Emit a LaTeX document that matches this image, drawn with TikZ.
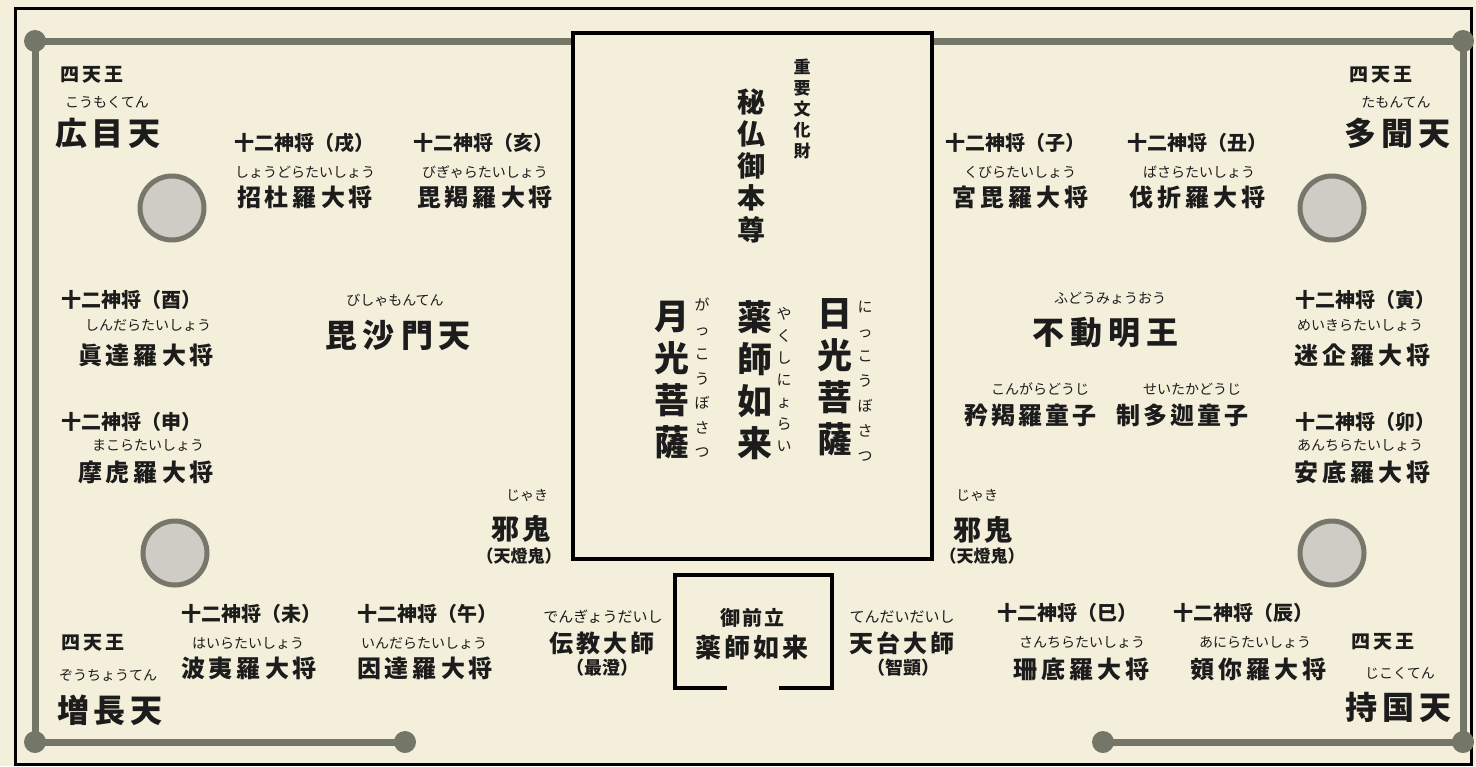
\documentclass[tikz,border=0pt]{standalone}
\usepackage{fontspec}
\setmainfont{Noto Sans CJK JP}
\definecolor{paper}{RGB}{244,239,218}
\definecolor{frameg}{RGB}{116,118,104}
\definecolor{circf}{RGB}{206,204,196}
\definecolor{circb}{RGB}{118,118,106}
\definecolor{ink}{RGB}{28,28,28}
\makeatletter
\newcommand\lsp[2]{\begingroup\def\lsp@f{x}\@tfor\lsp@c:=#2\do{\ifx\lsp@f\@empty\hspace{#1}\fi\let\lsp@f\@empty\lsp@c}\endgroup}
\newcommand\vstk[2]{\vbox{\baselineskip=#2\relax\lineskiplimit=-\maxdimen\lineskip=0pt\relax\@tfor\lsp@c:=#1\do{\hbox to 1em{\hss\lsp@c\hss}}}}
\makeatother
\tikzset{
  every node/.style={inner sep=0pt, text=ink},
  tz/.style={font=\fontsize{9.5}{11}\selectfont\bfseries},
  rb/.style={font=\fontsize{7}{8}\selectfont},
  rbb/.style={font=\fontsize{7.5}{9}\selectfont},
  tg/.style={font=\fontsize{10}{12}\selectfont\bfseries},
  nm/.style={font=\fontsize{12}{14}\selectfont\bfseries},
  big/.style={font=\fontsize{16}{18}\selectfont\bfseries},
  jk/.style={font=\fontsize{14}{16}\selectfont\bfseries},
  pn/.style={font=\fontsize{8.5}{10}\selectfont\bfseries},
  sm/.style={font=\fontsize{9}{11}\selectfont\bfseries},
  gline/.style={draw=frameg, line width=3.5pt},
  gdot/.style={fill=frameg},
  pillar/.style={fill=circf, draw=circb, line width=2.5pt},
  hall/.style={draw=black, line width=2pt},
}
\begin{document}
\begin{tikzpicture}[x=0.5pt,y=-0.5pt]
\useasboundingbox (0,0) rectangle (1476,766);
\fill[paper] (0,0) rectangle (1476,766);
% outer black frame
\draw[black, line width=1.5pt] (15,8) rectangle (1471,764);
% grey frame
\coordinate (tl) at (35,41);
\coordinate (tr) at (1463,41);
\coordinate (bl) at (35,742);
\coordinate (br) at (1463,742);
\coordinate (be1) at (405,742);
\coordinate (be2) at (1103,742);
\coordinate (tm1) at (575,41);
\coordinate (tm2) at (930,41);
\draw[gline] (tm1) -- (tl) -- (bl) -- (be1);
\draw[gline] (tm2) -- (tr) -- (br) -- (be2);
\foreach \p in {tl,tr,bl,br,be1,be2} \fill[gdot] (\p) circle (11);
% pillars
\draw[pillar] (172,208) circle (32);
\draw[pillar] (1332,208) circle (32);
\draw[pillar] (175,553) circle (32);
\draw[pillar] (1332,553) circle (32);
% main hall
\draw[hall, fill=paper] (573,33) rectangle (932,559);
% small front shrine
\coordinate (sb1) at (727,688);
\coordinate (sb2) at (779,688);
\draw[hall] (sb1) -- (675,688) -- (675,575) -- (832,575) -- (832,688) -- (sb2);

% ---- top left
\node[tz] (tlA) at (92,75) {\lsp{1.5pt}{四天王}};
\node[rb] (tlB) at (107,102) {こうもくてん};
\node[big] (tlC) at (108,133) {\lsp{2.5pt}{広目天}};
% ---- top right
\node[tz] (trA) at (1381,75) {\lsp{1.5pt}{四天王}};
\node[rb] (trB) at (1396,102) {たもんてん};
\node[big] (trC) at (1397,133) {\lsp{2.5pt}{多聞天}};
% ---- bottom left
\node[tz] (blA) at (93,643) {\lsp{1.5pt}{四天王}};
\node[rb] (blB) at (108,675) {ぞうちょうてん};
\node[big] (blC) at (110,710) {\lsp{2.5pt}{増長天}};
% ---- bottom right
\node[tz] (brA) at (1383,642) {\lsp{1.5pt}{四天王}};
\node[rb] (brB) at (1400,673) {じこくてん};
\node[big] (brC) at (1398,707) {\lsp{2.5pt}{持国天}};

% ---- twelve generals, top row
\node[tg] (jA) at (304,143) {十二神将（戌）};
\node[rb] (jAr) at (305,172) {しょうどらたいしょう};
\node[nm] (jAn) at (305,197) {\lsp{2pt}{招杜羅大将}};
\node[tg] (jB) at (483,143) {十二神将（亥）};
\node[rb] (jBr) at (485,172) {びぎゃらたいしょう};
\node[nm] (jBn) at (485,197) {\lsp{2pt}{毘羯羅大将}};
\node[tg] (jC) at (1015,143) {十二神将（子）};
\node[rb] (jCr) at (1020,172) {くびらたいしょう};
\node[nm] (jCn) at (1020,197) {\lsp{2pt}{宮毘羅大将}};
\node[tg] (jD) at (1197,143) {十二神将（丑）};
\node[rb] (jDr) at (1199,172) {ばさらたいしょう};
\node[nm] (jDn) at (1197,197) {\lsp{2pt}{伐折羅大将}};
% ---- left column
\node[tg] (jE) at (131,300) {十二神将（酉）};
\node[rb] (jEr) at (148,325) {しんだらたいしょう};
\node[nm] (jEn) at (146,355) {\lsp{2pt}{眞達羅大将}};
\node[tg] (jF) at (131,422) {十二神将（申）};
\node[rb] (jFr) at (148,445) {まこらたいしょう};
\node[nm] (jFn) at (146,472) {\lsp{2pt}{摩虎羅大将}};
% ---- right column
\node[tg] (jG) at (1365,300) {十二神将（寅）};
\node[rb] (jGr) at (1360,325) {めいきらたいしょう};
\node[nm] (jGn) at (1362,355) {\lsp{2pt}{迷企羅大将}};
\node[tg] (jH) at (1365,422) {十二神将（卯）};
\node[rb] (jHr) at (1360,445) {あんちらたいしょう};
\node[nm] (jHn) at (1362,472) {\lsp{2pt}{安底羅大将}};
% ---- bottom row
\node[tg] (jI) at (251,614) {十二神将（未）};
\node[rb] (jIr) at (248,643) {はいらたいしょう};
\node[nm] (jIn) at (249,668) {\lsp{2pt}{波夷羅大将}};
\node[tg] (jJ) at (427,614) {十二神将（午）};
\node[rb] (jJr) at (424,643) {いんだらたいしょう};
\node[nm] (jJn) at (425,668) {\lsp{2pt}{因達羅大将}};
\node[tg] (jK) at (1067,613) {十二神将（巳）};
\node[rb] (jKr) at (1082,642) {さんちらたいしょう};
\node[nm] (jKn) at (1081,669) {\lsp{2pt}{珊底羅大将}};
\node[tg] (jL) at (1243,613) {十二神将（辰）};
\node[rb] (jLr) at (1255,642) {あにらたいしょう};
\node[nm] (jLn) at (1258,669) {\lsp{2pt}{頞你羅大将}};

% ---- Bishamonten, Fudo
\node[rb] (bsr) at (395,300) {びしゃもんてん};
\node[big] (bs) at (398,335) {\lsp{3pt}{毘沙門天}};
\node[rb] (fdr) at (1110,298) {ふどうみょうおう};
\node[big] (fd) at (1105,333) {\lsp{3pt}{不動明王}};
\node[rb] (kgr) at (1040,389) {こんがらどうじ};
\node[nm] (kg) at (1030,415) {\lsp{1.5pt}{矜羯羅童子}};
\node[rb] (sdr) at (1192,389) {せいたかどうじ};
\node[nm] (sd) at (1182,415) {\lsp{1.5pt}{制多迦童子}};

% ---- jaki
\node[rb] (jk1r) at (527,495) {じゃき};
\node[jk] (jk1) at (521,529) {\lsp{2pt}{邪鬼}};
\node[pn] (jk1p) at (519,556) {（天燈鬼）};
\node[rb] (jk2r) at (977,495) {じゃき};
\node[jk] (jk2) at (983,530) {\lsp{2pt}{邪鬼}};
\node[pn] (jk2p) at (982,556) {（天燈鬼）};

% ---- Dengyo / Tendai
\node[rbb] (dgr) at (603,617) {でんぎょうだいし};
\node[nm] (dg) at (602,643) {\lsp{1.5pt}{伝教大師}};
\node[sm] (dgp) at (602,668) {（最澄）};
\node[rbb] (tdr) at (902,617) {てんだいだいし};
\node[nm] (td) at (902,643) {\lsp{1.5pt}{天台大師}};
\node[sm] (tdp) at (903,668) {（智顗）};

% ---- front shrine
\node[tg] (mz) at (752,618) {\lsp{1pt}{御前立}};
\node[font=\fontsize{13}{15}\selectfont\bfseries] (mzy) at (752,648) {\lsp{1.5pt}{薬師如来}};

% ---- main hall vertical texts
\node[font=\fontsize{8.5}{10}\selectfont\bfseries] (jyb) at (802,109) {\vstk{重要文化財}{10.5pt}};
\node[font=\fontsize{14}{16}\selectfont\bfseries] (hb) at (751,166) {\vstk{秘仏御本尊}{16pt}};
\node[font=\fontsize{17.5}{20}\selectfont\bfseries] (nk) at (835,377) {\vstk{日光菩薩}{21pt}};
\node[font=\fontsize{17.5}{20}\selectfont\bfseries] (ys) at (755,380) {\vstk{薬師如来}{21pt}};
\node[font=\fontsize{17.5}{20}\selectfont\bfseries] (gk) at (672,380) {\vstk{月光菩薩}{21pt}};
\node[font=\fontsize{7.5}{9}\selectfont] (nkr) at (865,381) {\vstk{にっこうぼさつ}{12.4pt}};
\node[font=\fontsize{7.5}{9}\selectfont] (ysr) at (784,380) {\vstk{やくしにょらい}{11pt}};
\node[font=\fontsize{7.5}{9}\selectfont] (gkr) at (702,378) {\vstk{がっこうぼさつ}{12.25pt}};
\end{tikzpicture}
\end{document}
